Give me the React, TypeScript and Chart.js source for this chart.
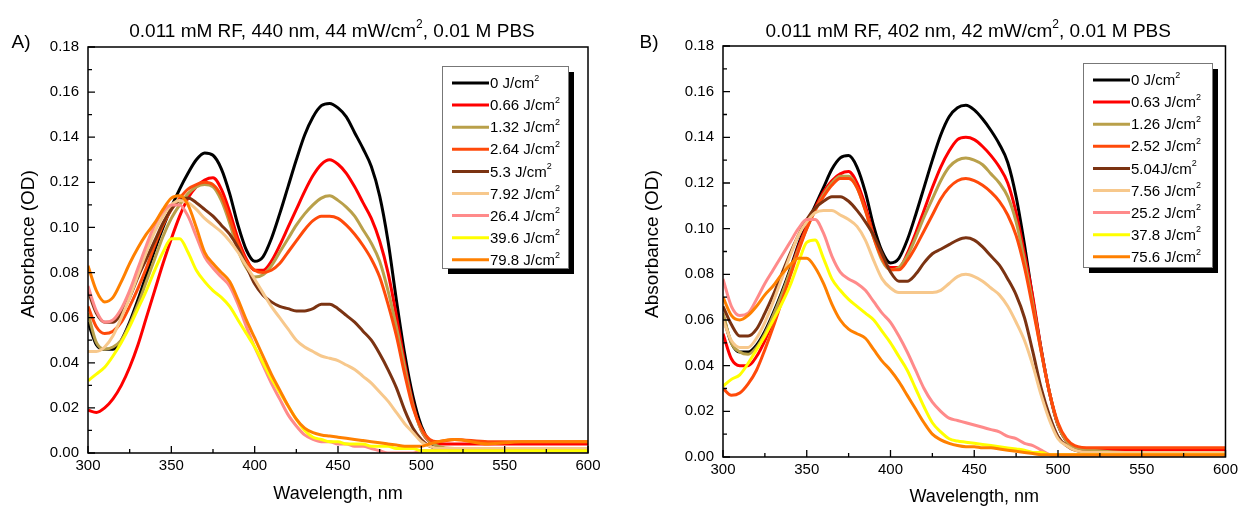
import React, { useEffect, useRef } from "react";
import { Chart, registerables } from "chart.js";

Chart.register(...registerables);

const WL = [300, 305, 310, 315, 320, 325, 330, 335, 340, 345, 350, 355, 360, 365, 370, 375, 380, 385, 390, 395, 400, 405, 410, 415, 420, 425, 430, 435, 440, 445, 450, 455, 460, 465, 470, 475, 480, 485, 490, 495, 500, 505, 510, 520, 540, 560, 580, 600];

const X_TICKS = [300, 350, 400, 450, 500, 550, 600];
const Y_TICKS = [0, 0.02, 0.04, 0.06, 0.08, 0.1, 0.12, 0.14, 0.16, 0.18];

const COLORS = ["#000000", "#FF0000", "#B9A04A", "#FF4A0A", "#7B3312", "#F7C88C", "#FF8A8A", "#FFFF00", "#FF8000"];

const TITLE_A = "0.011 mM RF, 440 nm, 44 mW/cm², 0.01 M PBS";
const TITLE_B = "0.011 mM RF, 402 nm, 42 mW/cm², 0.01 M PBS";
const X_TITLE = "Wavelength, nm";
const Y_TITLE = "Absorbance (OD)";

const LABELS_A = ["0 J/cm²", "0.66 J/cm²", "1.32 J/cm²", "2.64 J/cm²", "5.3 J/cm²", "7.92 J/cm²", "26.4 J/cm²", "39.6 J/cm²", "79.8 J/cm²"];
const LABELS_B = ["0 J/cm²", "0.63 J/cm²", "1.26 J/cm²", "2.52 J/cm²", "5.04J/cm²", "7.56 J/cm²", "25.2 J/cm²", "37.8 J/cm²", "75.6 J/cm²"];

// Panel A series
const A_0 = [0.058,0.048,0.046,0.046,0.050,0.058,0.068,0.079,0.090,0.100,
 0.109,0.117,0.124,0.130,0.133,0.132,0.126,0.115,0.101,0.090,
 0.085,0.087,0.095,0.106,0.118,0.130,0.141,0.149,0.154,0.155,
 0.153,0.149,0.142,0.135,0.127,0.114,0.094,0.068,0.044,0.025,
 0.012,0.005,0.002,0.001,0.001,0.001,0.001,0.001];
const A_066 = [0.019,0.018,0.020,0.024,0.030,0.038,0.048,0.060,0.072,0.084,
 0.095,0.105,0.113,0.118,0.121,0.122,0.117,0.107,0.095,0.086,
 0.081,0.081,0.085,0.092,0.100,0.108,0.116,0.123,0.128,0.130,
 0.128,0.124,0.118,0.111,0.104,0.094,0.080,0.061,0.040,0.022,
 0.010,0.005,0.004,0.004,0.004,0.004,0.004,0.004];
const A_132 = [0.062,0.049,0.046,0.047,0.050,0.057,0.066,0.076,0.086,0.096,
 0.104,0.110,0.115,0.118,0.119,0.118,0.112,0.102,0.090,0.082,
 0.078,0.079,0.083,0.089,0.095,0.101,0.106,0.110,0.113,0.114,
 0.112,0.109,0.105,0.099,0.093,0.085,0.072,0.056,0.038,0.021,
 0.010,0.005,0.003,0.002,0.002,0.002,0.002,0.002];
const A_264 = [0.065,0.056,0.053,0.054,0.058,0.065,0.073,0.082,0.092,0.101,
 0.108,0.113,0.117,0.119,0.120,0.119,0.114,0.104,0.093,0.085,
 0.081,0.080,0.081,0.084,0.089,0.094,0.099,0.103,0.105,0.105,
 0.104,0.101,0.097,0.092,0.086,0.078,0.066,0.052,0.035,0.020,
 0.011,0.006,0.005,0.006,0.005,0.005,0.005,0.005];
const A_53 = [0.072,0.062,0.058,0.058,0.062,0.069,0.078,0.086,0.094,0.102,
 0.108,0.112,0.113,0.111,0.108,0.105,0.101,0.097,0.091,0.083,
 0.075,0.070,0.067,0.065,0.064,0.063,0.063,0.064,0.066,0.066,
 0.064,0.061,0.058,0.054,0.050,0.044,0.037,0.029,0.019,0.011,
 0.006,0.003,0.002,0.002,0.002,0.002,0.002,0.002];
const A_792 = [0.045,0.045,0.047,0.052,0.060,0.069,0.079,0.089,0.098,0.105,
 0.110,0.112,0.111,0.108,0.104,0.101,0.098,0.094,0.089,0.083,
 0.077,0.071,0.065,0.060,0.055,0.050,0.047,0.045,0.043,0.042,
 0.041,0.039,0.037,0.034,0.031,0.027,0.023,0.018,0.013,0.009,
 0.005,0.003,0.002,0.002,0.002,0.002,0.002,0.002];
const A_264b = [0.074,0.063,0.058,0.059,0.064,0.072,0.082,0.092,0.101,0.107,
 0.110,0.110,0.105,0.096,0.087,0.082,0.078,0.074,0.066,0.056,
 0.047,0.039,0.031,0.024,0.017,0.012,0.008,0.006,0.005,0.005,
 0.004,0.004,0.003,0.003,0.002,0.001,0.000,0.000,0.000,0.000,
 0.001,0.001,0.001,0.001,0.001,0.001,0.001,0.001];
const A_396 = [0.032,0.035,0.038,0.043,0.049,0.056,0.064,0.072,0.081,0.089,
 0.095,0.095,0.089,0.081,0.076,0.072,0.069,0.065,0.059,0.053,
 0.047,0.040,0.033,0.027,0.021,0.015,0.010,0.007,0.006,0.005,
 0.005,0.004,0.004,0.004,0.003,0.003,0.003,0.002,0.002,0.002,
 0.001,0.001,0.001,0.001,0.001,0.001,0.001,0.001];
const A_798 = [0.083,0.072,0.067,0.069,0.076,0.084,0.091,0.097,0.102,0.108,
 0.113,0.114,0.110,0.100,0.089,0.084,0.080,0.076,0.068,0.059,
 0.051,0.043,0.035,0.028,0.021,0.015,0.011,0.009,0.008,0.0075,
 0.007,0.0065,0.006,0.0055,0.005,0.0045,0.004,0.0035,0.003,0.003,
 0.003,0.004,0.005,0.006,0.004,0.005,0.005,0.005];

// Panel B series
const B_0 = [0.062,0.050,0.046,0.046,0.049,0.055,0.063,0.072,0.082,0.093,
 0.102,0.110,0.118,0.126,0.131,0.132,0.127,0.116,0.101,0.090,
 0.085,0.087,0.095,0.106,0.118,0.130,0.141,0.149,0.153,0.154,
 0.152,0.148,0.143,0.137,0.129,0.114,0.093,0.069,0.047,0.028,
 0.014,0.007,0.004,0.003,0.002,0.002,0.002,0.002];
const B_063 = [0.054,0.043,0.040,0.040,0.044,0.051,0.060,0.070,0.081,0.092,
 0.101,0.109,0.116,0.121,0.124,0.125,0.120,0.110,0.097,0.087,
 0.083,0.083,0.089,0.098,0.108,0.118,0.127,0.134,0.139,0.140,
 0.139,0.136,0.132,0.127,0.120,0.107,0.089,0.070,0.047,0.028,
 0.014,0.007,0.004,0.003,0.003,0.003,0.003,0.003];
const B_126 = [0.063,0.050,0.046,0.045,0.048,0.054,0.062,0.071,0.081,0.091,
 0.100,0.108,0.115,0.120,0.123,0.123,0.118,0.108,0.096,0.086,
 0.082,0.083,0.088,0.096,0.105,0.113,0.121,0.127,0.130,0.131,
 0.130,0.128,0.124,0.120,0.114,0.103,0.086,0.067,0.046,0.028,
 0.014,0.007,0.004,0.003,0.002,0.002,0.002,0.002];
const B_252 = [0.030,0.027,0.028,0.032,0.038,0.047,0.057,0.068,0.079,0.090,
 0.100,0.108,0.114,0.119,0.122,0.122,0.118,0.108,0.096,0.087,
 0.082,0.082,0.086,0.092,0.099,0.106,0.113,0.118,0.121,0.122,
 0.121,0.119,0.116,0.112,0.106,0.097,0.083,0.065,0.046,0.028,
 0.015,0.008,0.005,0.004,0.004,0.004,0.004,0.004];
const B_504 = [0.066,0.058,0.053,0.053,0.056,0.063,0.071,0.080,0.089,0.097,
 0.104,0.109,0.112,0.114,0.114,0.112,0.108,0.103,0.097,0.089,
 0.081,0.077,0.077,0.080,0.085,0.089,0.091,0.093,0.095,0.096,
 0.095,0.092,0.088,0.084,0.078,0.071,0.061,0.046,0.030,0.018,
 0.009,0.005,0.003,0.002,0.002,0.002,0.002,0.002];
const B_756 = [0.060,0.051,0.048,0.048,0.052,0.059,0.068,0.078,0.088,0.097,
 0.103,0.107,0.108,0.108,0.106,0.104,0.101,0.095,0.086,0.078,
 0.074,0.072,0.072,0.072,0.072,0.072,0.073,0.076,0.079,0.080,
 0.079,0.077,0.074,0.071,0.066,0.059,0.051,0.040,0.027,0.016,
 0.008,0.005,0.003,0.002,0.002,0.002,0.002,0.002];
const B_252b = [0.078,0.066,0.062,0.063,0.069,0.076,0.082,0.088,0.094,0.100,
 0.104,0.104,0.098,0.088,0.081,0.078,0.076,0.073,0.068,0.063,
 0.059,0.053,0.046,0.038,0.030,0.024,0.020,0.017,0.016,0.015,
 0.014,0.013,0.012,0.011,0.009,0.008,0.006,0.005,0.003,0.001,
 0.000,0.000,0.000,0.000,0.000,0.000,0.000,0.000];
const B_378 = [0.031,0.034,0.036,0.041,0.047,0.053,0.060,0.067,0.075,0.085,
 0.094,0.095,0.087,0.078,0.073,0.069,0.066,0.063,0.060,0.055,
 0.050,0.044,0.038,0.030,0.022,0.015,0.011,0.008,0.007,0.0065,
 0.006,0.0055,0.005,0.0045,0.004,0.0035,0.003,0.002,0.002,0.001,
 0.001,0.001,0.001,0.001,0.001,0.001,0.001,0.001];
const B_756b = [0.070,0.062,0.060,0.062,0.066,0.071,0.075,0.080,0.084,0.087,
 0.087,0.083,0.076,0.067,0.060,0.056,0.054,0.052,0.047,0.042,
 0.038,0.033,0.027,0.021,0.015,0.010,0.0075,0.006,0.005,0.0045,
 0.0045,0.004,0.004,0.0035,0.003,0.0025,0.002,0.0015,0.001,0.001,
 0.001,0.001,0.001,0.001,0.001,0.001,0.001,0.001];

const SERIES_A = [A_0, A_066, A_132, A_264, A_53, A_792, A_264b, A_396, A_798];
const SERIES_B = [B_0, B_063, B_126, B_252, B_504, B_756, B_252b, B_378, B_756b];

const FONT = '"Liberation Sans", Arial, Helvetica, sans-serif';

type PanelCfg = {
  series: number[][];
  labels: string[];
  title: string;
  letter: string;
  width: number;
  padTop: number;
  padRight: number;
  yWidth: number;
  xHeight: number;
  yTitleX: number;
  xTitleY: number;
  letterX: number;
  legendLeft: number;
  legendTop: number;
  legendW: number;
  legendH: number;
};

const PANEL_A: PanelCfg = {
  series: SERIES_A, labels: LABELS_A, title: TITLE_A, letter: "A)", width: 620,
  padTop: 47, padRight: 32, yWidth: 88, xHeight: 57,
  yTitleX: 29, xTitleY: 494, letterX: 21,
  legendLeft: 442, legendTop: 66, legendW: 126, legendH: 202,
};
const PANEL_B: PanelCfg = {
  series: SERIES_B, labels: LABELS_B, title: TITLE_B, letter: "B)", width: 622,
  padTop: 46, padRight: 12, yWidth: 103, xHeight: 53,
  yTitleX: 33, xTitleY: 497, letterX: 29,
  legendLeft: 463, legendTop: 63, legendW: 129, legendH: 204,
};

function drawRich(ctx: CanvasRenderingContext2D, text: string, x: number, y: number, size: number, align: "left" | "center") {
  const parts = text.split("²");
  const supSize = Math.round(size * 0.62);
  ctx.textBaseline = "middle";
  ctx.textAlign = "left";
  let total = 0;
  const widths: number[] = [];
  parts.forEach((p, i) => {
    ctx.font = `${size}px ${FONT}`;
    const w = ctx.measureText(p).width;
    widths.push(w);
    total += w;
    if (i < parts.length - 1) {
      ctx.font = `${supSize}px ${FONT}`;
      total += ctx.measureText("2").width;
    }
  });
  let cx = align === "center" ? x - total / 2 : x;
  parts.forEach((p, i) => {
    ctx.font = `${size}px ${FONT}`;
    ctx.fillText(p, cx, y);
    cx += widths[i];
    if (i < parts.length - 1) {
      ctx.font = `${supSize}px ${FONT}`;
      ctx.fillText("2", cx, y - size * 0.38);
      cx += ctx.measureText("2").width;
    }
  });
}

function makeDecor(cfg: PanelCfg) {
  return {
    id: "decor",
    afterDraw(chart: any) {
      const ctx: CanvasRenderingContext2D = chart.ctx;
      const a = chart.chartArea;
      const xs = chart.scales.x;
      const ys = chart.scales.y;
      ctx.save();
      ctx.fillStyle = "#000";
      ctx.strokeStyle = "#000";
      ctx.lineWidth = 1.5;
      ctx.strokeRect(a.left, a.top, a.right - a.left, a.bottom - a.top);
      ctx.lineWidth = 1.3;
      ctx.beginPath();
      X_TICKS.forEach((v, i) => {
        const px = xs.getPixelForValue(v);
        ctx.moveTo(px, a.bottom);
        ctx.lineTo(px, a.bottom - 7);
        if (i < X_TICKS.length - 1) {
          const mx = xs.getPixelForValue((v + X_TICKS[i + 1]) / 2);
          ctx.moveTo(mx, a.bottom);
          ctx.lineTo(mx, a.bottom - 4);
        }
      });
      Y_TICKS.forEach((v, i) => {
        const py = ys.getPixelForValue(v);
        ctx.moveTo(a.left, py);
        ctx.lineTo(a.left + 7, py);
        if (i < Y_TICKS.length - 1) {
          const my = ys.getPixelForValue((v + Y_TICKS[i + 1]) / 2);
          ctx.moveTo(a.left, my);
          ctx.lineTo(a.left + 4, my);
        }
      });
      ctx.stroke();

      const L = cfg.legendLeft, T = cfg.legendTop, W = cfg.legendW, H = cfg.legendH;
      ctx.fillStyle = "#000";
      ctx.fillRect(L + 6, T + 6, W, H);
      ctx.fillStyle = "#fff";
      ctx.fillRect(L, T, W, H);
      ctx.strokeStyle = "#777";
      ctx.lineWidth = 1;
      ctx.strokeRect(L + 0.5, T + 0.5, W, H);
      cfg.labels.forEach((lab, i) => {
        const y = T + 17 + i * 22.1;
        ctx.strokeStyle = COLORS[i];
        ctx.lineWidth = 3;
        ctx.beginPath();
        ctx.moveTo(L + 10, y);
        ctx.lineTo(L + 47, y);
        ctx.stroke();
        ctx.fillStyle = "#000";
        drawRich(ctx, lab, L + 48, y + 1, 15, "left");
      });

      const cxPlot = (a.left + a.right) / 2;
      ctx.fillStyle = "#000";
      drawRich(ctx, cfg.title, cxPlot - 6, 32, 19, "center");
      ctx.font = `19px ${FONT}`;
      ctx.textAlign = "center";
      ctx.textBaseline = "middle";
      ctx.fillText(cfg.letter, cfg.letterX, 43);
      ctx.font = `18px ${FONT}`;
      ctx.fillText(X_TITLE, cxPlot, cfg.xTitleY);
      ctx.save();
      ctx.translate(cfg.yTitleX, 244);
      ctx.rotate(-Math.PI / 2);
      ctx.font = `19px ${FONT}`;
      ctx.fillText(Y_TITLE, 0, 0);
      ctx.restore();
      ctx.restore();
    },
  };
}

function Panel({ cfg }: { cfg: PanelCfg }) {
  const ref = useRef<HTMLCanvasElement | null>(null);
  useEffect(() => {
    if (!ref.current) return;
    const datasets = cfg.series.map((s, i) => ({
      label: cfg.labels[i],
      data: WL.map((w, j) => ({ x: w, y: s[j] })),
      borderColor: COLORS[i],
      backgroundColor: COLORS[i],
      borderWidth: 3,
      pointRadius: 0,
      fill: false,
      cubicInterpolationMode: "monotone" as const,
      order: -i,
    }));
    const tickFont = { family: FONT, size: 15 };
    const chart = new Chart(ref.current, {
      type: "line",
      data: { datasets },
      options: {
        animation: false,
        responsive: false,
        maintainAspectRatio: false,
        layout: { padding: { top: cfg.padTop, right: cfg.padRight, left: 0, bottom: 0 } },
        plugins: { legend: { display: false }, tooltip: { enabled: false }, title: { display: false } },
        scales: {
          x: {
            type: "linear",
            min: 300,
            max: 600,
            afterBuildTicks: (s: any) => { s.ticks = X_TICKS.map((v) => ({ value: v })); },
            afterFit: (s: any) => { s.height = cfg.xHeight; },
            grid: { display: false, drawTicks: false },
            border: { display: false },
            ticks: { padding: 4, font: tickFont, color: "#000", maxRotation: 0, autoSkip: false, callback: (v: any) => String(v) },
          },
          y: {
            type: "linear",
            min: 0,
            max: 0.18,
            afterBuildTicks: (s: any) => { s.ticks = Y_TICKS.map((v) => ({ value: v })); },
            afterFit: (s: any) => { s.width = cfg.yWidth; },
            grid: { display: false, drawTicks: false },
            border: { display: false },
            ticks: { padding: 9, font: tickFont, color: "#000", autoSkip: false, callback: (v: any) => Number(v).toFixed(2) },
          },
        },
      },
      plugins: [makeDecor(cfg)],
    } as any);
    return () => chart.destroy();
  }, [cfg]);
  return <canvas ref={ref} width={cfg.width} height={510} style={{ display: "block", width: cfg.width, height: 510 }} />;
}

export default function App() {
  return (
    <div style={{ position: "fixed", left: 0, top: 0, width: 1242, height: 510, background: "#fff", display: "flex" }}>
      <Panel cfg={PANEL_A} />
      <Panel cfg={PANEL_B} />
    </div>
  );
}
